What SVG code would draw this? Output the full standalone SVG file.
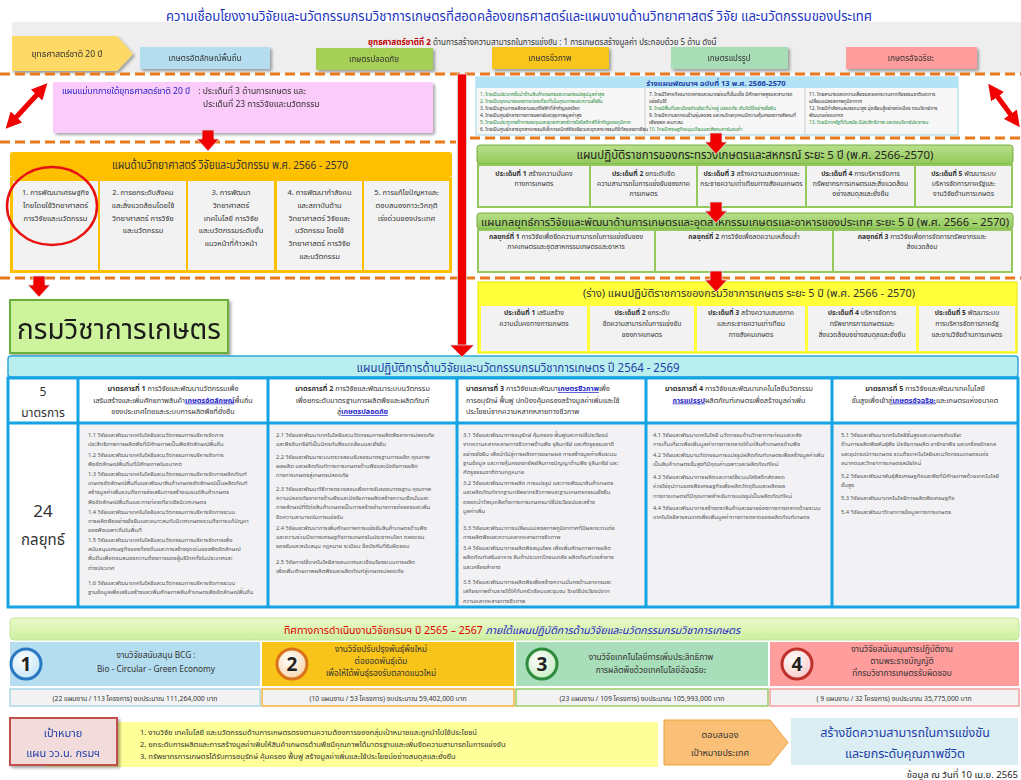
<svg xmlns="http://www.w3.org/2000/svg" width="1021" height="780" viewBox="0 0 1021 780">
<defs>
<style>
.th{font-family:"Noto Sans Thai","Tahoma","Loma","Garuda","Noto Sans","DejaVu Sans",sans-serif;}
.dash{stroke:#E8791E;stroke-width:3;stroke-dasharray:10 5;fill:none;}
.cell{fill:#F2F2F2;}
.c{text-anchor:middle;}
.dk{fill:#333;}
.b{font-weight:bold;}
.arrow{fill:#F00000;stroke:#D9D9D9;stroke-width:0.8;}
.s{font-size:5.8px;fill:#555;}
.m{font-size:7.2px;fill:#333;}
.p{font-size:6.8px;fill:#333;}
.tiny{font-size:4.8px;}
.g13{fill:#1E8B3A;}
</style>
<filter id="sh" x="-10%" y="-10%" width="130%" height="140%">
<feDropShadow dx="2" dy="2" stdDeviation="1.5" flood-color="#000" flood-opacity="0.35"/>
</filter>
<path id="dn" d="M-6,0 H6 V9 H11 L0,21 L-11,9 H-6 Z"/>
<marker id="ah" viewBox="0 0 10 10" refX="6" refY="5" markerWidth="3.2" markerHeight="3.2" orient="auto-start-reverse">
<path d="M0,0 L10,5 L0,10 Z" fill="#F00000"/>
</marker>
<linearGradient id="gHead" x1="0" y1="0" x2="0" y2="1"><stop offset="0" stop-color="#B8E08A"/><stop offset="1" stop-color="#92C85A"/></linearGradient>
<linearGradient id="gBan" x1="0" y1="0" x2="0" y2="1"><stop offset="0" stop-color="#EAF9C8"/><stop offset="1" stop-color="#CDEFA0"/></linearGradient>
<radialGradient id="gC1" cx="0.4" cy="0.35" r="0.7"><stop offset="0" stop-color="#FFFFFF"/><stop offset="1" stop-color="#BFE3F5"/></radialGradient>
<radialGradient id="gC2" cx="0.4" cy="0.35" r="0.7"><stop offset="0" stop-color="#FFFFFF"/><stop offset="1" stop-color="#F9D3A8"/></radialGradient>
<radialGradient id="gC3" cx="0.4" cy="0.35" r="0.7"><stop offset="0" stop-color="#FFFFFF"/><stop offset="1" stop-color="#C6EBC0"/></radialGradient>
<radialGradient id="gC4" cx="0.4" cy="0.35" r="0.7"><stop offset="0" stop-color="#FFFFFF"/><stop offset="1" stop-color="#F8C8C8"/></radialGradient>
</defs>
<rect width="1021" height="780" fill="#FFFFFF"/>

<!-- title -->
<g id="title">
<text class="th c" x="519" y="21" font-size="13.5" fill="#2233C0" textLength="706" lengthAdjust="spacingAndGlyphs">ความเชื่อมโยงงานวิจัยและนวัตกรรมกรมวิชาการเกษตรที่สอดคล้องยุทธศาสตร์และแผนงานด้านวิทยาศาสตร์ วิจัย และนวัตกรรมของประเทศ</text>
</g>

<!-- top band -->
<g id="top-band">
<rect x="12" y="22" width="1009" height="51" fill="#EEEEEE"/>
<text class="th" x="368" y="45" font-size="8" fill="#333"><tspan fill="#C00000" font-weight="bold">ยุทธศาสตร์ชาติที่ 2</tspan> ด้านการสร้างความสามารถในการแข่งขัน : 1 การเกษตรสร้างมูลค่า ประกอบด้วย 5 ด้าน ดังนี้</text>
</g>
<g id="n-strategy20" filter="url(#sh)">
<polygon points="12,36 117,36 133,54 117,71 12,71" fill="#FFD966"/>
<text class="th c" x="67" y="57" font-size="8.5" fill="#333">ยุทธศาสตร์ชาติ 20 ปี</text>
</g>
<g id="n-identity" filter="url(#sh)"><rect x="140" y="47" width="130" height="22" fill="#B4DEEF"/><text class="th c" x="205" y="61" font-size="8" fill="#333">เกษตรอัตลักษณ์พื้นถิ่น</text></g>
<g id="n-safe" filter="url(#sh)"><rect x="316" y="48" width="117" height="22" fill="#A5CF55"/><text class="th c" x="374" y="62" font-size="8" fill="#333">เกษตรปลอดภัย</text></g>
<g id="n-bio" filter="url(#sh)"><rect x="492" y="47" width="117" height="22" fill="#F7C51C"/><text class="th c" x="550" y="61" font-size="8" fill="#333">เกษตรชีวภาพ</text></g>
<g id="n-process" filter="url(#sh)"><rect x="671" y="47" width="117" height="22" fill="#A8DDB5"/><text class="th c" x="729" y="61" font-size="8" fill="#333">เกษตรแปรรูป</text></g>
<g id="n-smart" filter="url(#sh)"><rect x="846" y="47" width="131" height="22" fill="#FF9C9C"/><text class="th c" x="911" y="61" font-size="8" fill="#333">เกษตรอัจฉริยะ</text></g>

<!-- dashed separators -->
<g id="separators">
<line class="dash" x1="0" y1="74" x2="1021" y2="74"/>
<line class="dash" x1="0" y1="142" x2="456" y2="142"/>
<line class="dash" x1="470" y1="138" x2="1021" y2="138"/>
<line class="dash" x1="0" y1="278" x2="1021" y2="278"/>
</g>

<!-- master plan -->
<g id="n-masterplan" filter="url(#sh)">
<rect x="53" y="82" width="380" height="51" rx="2" fill="#FBCBFA"/>
<text class="th" x="62" y="94" font-size="8.5"><tspan fill="#2323C8">แผนแม่บทภายใต้ยุทธศาสตร์ชาติ 20 ปี</tspan><tspan x="196" fill="#333"> : ประเด็นที่ 3 ด้านการเกษตร และ</tspan></text>
<text class="th" x="203" y="107" font-size="8.5" fill="#333">ประเด็นที่ 23 การวิจัยและนวัตกรรม</text>
</g>

<!-- national plan 13 -->
<g id="n-nesdp13">
<rect x="476" y="77" width="482" height="58" fill="#F7F7F7" stroke="#9FD3E6" stroke-width="1"/>
<rect x="476" y="77" width="482" height="11" fill="#B3E4F6"/>
<text class="th c b" x="716" y="85.6" font-size="7.6" fill="#1F3FA8">ร่างแผนพัฒนาฯ ฉบับที่ 13 พ.ศ. 2566-2570</text>
<line x1="645" y1="88" x2="645" y2="135" stroke="#CFCFCF"/>
<line x1="805" y1="88" x2="805" y2="135" stroke="#CFCFCF"/>
<g class="th tiny">
<text x="480" y="96" class="g13">1. ไทยเป็นประเทศชั้นนำด้านสินค้าเกษตรและเกษตรแปรรูปมูลค่าสูง</text>
<text x="480" y="103" class="g13">2. ไทยเป็นจุดหมายของการท่องเที่ยวที่เน้นคุณภาพและความยั่งยืน</text>
<text x="480" y="110" class="dk">3. ไทยเป็นฐานการผลิตยานยนต์ไฟฟ้าที่สำคัญของโลก</text>
<text x="480" y="117" class="dk">4. ไทยเป็นศูนย์กลางทางการแพทย์และสุขภาพมูลค่าสูง</text>
<text x="480" y="124" class="g13">5. ไทยเป็นประตูการค้าการลงทุนและยุทธศาสตร์ทางโลจิสติกส์ที่สำคัญของภูมิภาค</text>
<text x="480" y="131" class="dk">6. ไทยเป็นศูนย์กลางอุตสาหกรรมอิเล็กทรอนิกส์อัจฉริยะและอุตสาหกรรมดิจิทัลของอาเซียน</text>
<text x="649" y="96" class="dk">7. ไทยมีวิสาหกิจขนาดกลางและขนาดย่อมที่เข้มแข็ง มีศักยภาพสูงและสามารถ</text>
<text x="649" y="103" class="dk">แข่งขันได้</text>
<text x="649" y="110" class="g13">8. ไทยมีพื้นที่และเมืองอัจฉริยะที่น่าอยู่ ปลอดภัย เติบโตได้อย่างยั่งยืน</text>
<text x="649" y="117" class="dk">9. ไทยมีความยากจนข้ามรุ่นลดลง และคนไทยทุกคนมีความคุ้มครองทางสังคมที่</text>
<text x="649" y="124" class="dk">เพียงพอ เหมาะสม</text>
<text x="649" y="131" class="g13">10. ไทยมีเศรษฐกิจหมุนเวียนและสังคมคาร์บอนต่ำ</text>
<text x="809" y="96" class="dk">11. ไทยสามารถลดความเสี่ยงและผลกระทบจากภัยธรรมชาติและการ</text>
<text x="809" y="103" class="dk">เปลี่ยนแปลงสภาพภูมิอากาศ</text>
<text x="809" y="110" class="dk">12. ไทยมีกำลังคนสมรรถนะสูง มุ่งเรียนรู้อย่างต่อเนื่อง ตอบโจทย์การ</text>
<text x="809" y="117" class="dk">พัฒนาแห่งอนาคต</text>
<text x="809" y="124" class="g13">13. ไทยมีภาครัฐที่ทันสมัย มีประสิทธิภาพ และตอบโจทย์ประชาชน</text>
</g>
</g>

<!-- science plan -->
<g id="n-sciplan">
<rect x="10" y="152" width="442" height="25" rx="3" fill="#FFC000"/>
<text class="th c" x="230" y="169" font-size="11.5" fill="#333" textLength="236" lengthAdjust="spacingAndGlyphs">แผนด้านวิทยาศาสตร์ วิจัยและนวัตกรรม พ.ศ. 2566 - 2570</text>
<rect x="10" y="177" width="442" height="96" fill="#FFC000"/>
<rect class="cell" x="13" y="181" width="85" height="89"/>
<rect class="cell" x="100" y="181" width="86" height="89"/>
<rect class="cell" x="188" y="181" width="86" height="89"/>
<rect class="cell" x="277" y="181" width="85" height="89"/>
<rect class="cell" x="364" y="181" width="85" height="89"/>
<g class="th c" font-size="7.5" fill="#333">
<text x="55.5" y="195">1. การพัฒนาเศรษฐกิจ<tspan x="55.5" dy="12.8">ไทยโดยใช้วิทยาศาสตร์</tspan><tspan x="55.5" dy="12.8">การวิจัยและนวัตกรรม</tspan></text>
<text x="143" y="195">2. การยกระดับสังคม<tspan x="143" dy="12.8">และสิ่งแวดล้อมโดยใช้</tspan><tspan x="143" dy="12.8">วิทยาศาสตร์ การวิจัย</tspan><tspan x="143" dy="12.8">และนวัตกรรม</tspan></text>
<text x="231" y="195">3. การพัฒนา<tspan x="231" dy="12.8">วิทยาศาสตร์</tspan><tspan x="231" dy="12.8">เทคโนโลยี การวิจัย</tspan><tspan x="231" dy="12.8">และนวัตกรรมระดับขั้น</tspan><tspan x="231" dy="12.8">แนวหน้าที่ก้าวหน้า</tspan></text>
<text x="319.5" y="195">4. การพัฒนากำลังคน<tspan x="319.5" dy="12.8">และสถาบันด้าน</tspan><tspan x="319.5" dy="12.8">วิทยาศาสตร์ วิจัยและ</tspan><tspan x="319.5" dy="12.8">นวัตกรรม โดยใช้</tspan><tspan x="319.5" dy="12.8">วิทยาศาสตร์ การวิจัย</tspan><tspan x="319.5" dy="12.8">และนวัตกรรม</tspan></text>
<text x="406.5" y="195">5. การแก้ไขปัญหาและ<tspan x="406.5" dy="12.8">ตอบสนองภาวะวิกฤติ</tspan><tspan x="406.5" dy="12.8">เร่งด่วนของประเทศ</tspan></text>
</g>
<ellipse cx="52" cy="206" rx="45" ry="39" fill="none" stroke="#E81010" stroke-width="2.5"/>
</g>

<!-- DOA -->
<g id="n-doa" filter="url(#sh)">
<rect x="10" y="300" width="218" height="53" fill="#CDF39C" stroke="#6BAE3C" stroke-width="2"/>
<text class="th c" x="119" y="339" font-size="29" fill="#1A1A1A" textLength="204" lengthAdjust="spacingAndGlyphs">กรมวิชาการเกษตร</text>
</g>

<!-- MOAC plan -->
<g id="n-moac">
<rect x="477" y="145" width="536" height="19" rx="3" fill="url(#gHead)" stroke="#78AE45" stroke-width="1"/>
<text class="th c" x="755" y="159" font-size="11.5" fill="#222" textLength="357" lengthAdjust="spacingAndGlyphs">แผนปฏิบัติราชการของกระทรวงเกษตรและสหกรณ์ ระยะ 5 ปี (พ.ศ. 2566-2570)</text>
<rect x="477" y="164" width="536" height="44" fill="#93C95E"/>
<rect class="cell" x="479" y="166" width="110" height="40"/>
<rect class="cell" x="591" y="166" width="105" height="40"/>
<rect class="cell" x="698" y="166" width="107" height="40"/>
<rect class="cell" x="807" y="166" width="107" height="40"/>
<rect class="cell" x="916" y="166" width="95" height="40"/>
<g class="th c p">
<text x="534" y="176"><tspan class="b">ประเด็นที่ 1</tspan> สร้างความมั่นคง<tspan x="534" dy="10">ทางการเกษตร</tspan></text>
<text x="643.5" y="176"><tspan class="b">ประเด็นที่ 2</tspan> ยกระดับขีด<tspan x="643.5" dy="10">ความสามารถในการแข่งขันของภาค</tspan><tspan x="643.5" dy="10">การเกษตร</tspan></text>
<text x="751.5" y="176"><tspan class="b">ประเด็นที่ 3</tspan> สร้างความเสมอภาคและ<tspan x="751.5" dy="10">กระจายความเท่าเทียมทางสังคมเกษตร</tspan></text>
<text x="860.5" y="176"><tspan class="b">ประเด็นที่ 4</tspan> การบริหารจัดการ<tspan x="860.5" dy="10">ทรัพยากรการเกษตรและสิ่งแวดล้อม</tspan><tspan x="860.5" dy="10">อย่างสมดุลและยั่งยืน</tspan></text>
<text x="963.5" y="176"><tspan class="b">ประเด็นที่ 5</tspan> พัฒนาระบบ<tspan x="963.5" dy="10">บริหารจัดการภาครัฐและ</tspan><tspan x="963.5" dy="10">งานวิจัยด้านการเกษตร</tspan></text>
</g>
</g>

<!-- national research strategy -->
<g id="n-strat">
<rect x="477" y="213" width="536" height="16" rx="3" fill="url(#gHead)" stroke="#78AE45" stroke-width="1"/>
<text class="th c" x="745" y="225.5" font-size="11" fill="#222" textLength="528" lengthAdjust="spacingAndGlyphs">แผนกลยุทธ์การวิจัยและพัฒนาด้านการเกษตรและอุตสาหกรรมเกษตรและอาหารของประเทศ ระยะ 5 ปี (พ.ศ. 2566 – 2570)</text>
<rect x="477" y="229" width="536" height="44" fill="#93C95E"/>
<rect class="cell" x="479" y="231" width="175" height="40"/>
<rect class="cell" x="656" y="231" width="176" height="40"/>
<rect class="cell" x="834" y="231" width="177" height="40"/>
<g class="th c p">
<text x="566" y="239"><tspan class="b">กลยุทธ์ที่ 1</tspan> การวิจัยเพื่อขีดความสามารถในการแข่งขันของ<tspan x="566" dy="10">ภาคเกษตรและอุตสาหกรรมเกษตรและอาหาร</tspan></text>
<text x="744" y="239"><tspan class="b">กลยุทธ์ที่ 2</tspan> การวิจัยเพื่อลดความเหลื่อมล้ำ</text>
<text x="922" y="239"><tspan class="b">กลยุทธ์ที่ 3</tspan> การวิจัยเพื่อการจัดการทรัพยากรและ<tspan x="922" dy="10">สิ่งแวดล้อม</tspan></text>
</g>
</g>

<!-- DOA action plan draft -->
<g id="n-doaplan">
<rect x="478" y="282" width="539" height="71" fill="#FFFF3A" stroke="#E6E600" stroke-width="1"/>
<text class="th c" x="749" y="297" font-size="10.5" fill="#333" textLength="332" lengthAdjust="spacingAndGlyphs">(ร่าง) แผนปฏิบัติราชการของกรมวิชาการเกษตร ระยะ 5 ปี (พ.ศ. 2566 - 2570)</text>
<rect class="cell" x="481" y="306" width="106" height="45"/>
<rect class="cell" x="590" y="306" width="104" height="45"/>
<rect class="cell" x="697" y="306" width="108" height="45"/>
<rect class="cell" x="808" y="306" width="108" height="45"/>
<rect class="cell" x="919" y="306" width="96" height="45"/>
<g class="th c p">
<text x="534" y="315"><tspan class="b">ประเด็นที่ 1</tspan> เสริมสร้าง<tspan x="534" dy="11">ความมั่นคงทางการเกษตร</tspan></text>
<text x="642" y="315"><tspan class="b">ประเด็นที่ 2</tspan> ยกระดับ<tspan x="642" dy="11">ขีดความสามารถในการแข่งขัน</tspan><tspan x="642" dy="11">ของภาคเกษตร</tspan></text>
<text x="751" y="315"><tspan class="b">ประเด็นที่ 3</tspan> สร้างความเสมอภาค<tspan x="751" dy="11">และกระจายความเท่าเทียม</tspan><tspan x="751" dy="11">ทางสังคมเกษตร</tspan></text>
<text x="862" y="315"><tspan class="b">ประเด็นที่ 4</tspan> บริหารจัดการ<tspan x="862" dy="11">ทรัพยากรการเกษตรและ</tspan><tspan x="862" dy="11">สิ่งแวดล้อมอย่างสมดุลและยั่งยืน</tspan></text>
<text x="967" y="315"><tspan class="b">ประเด็นที่ 5</tspan> พัฒนาระบบ<tspan x="967" dy="11">การบริหารจัดการภาครัฐ</tspan><tspan x="967" dy="11">และงานวิจัยด้านการเกษตร</tspan></text>
</g>
</g>

<!-- research action plan table -->
<g id="n-rdplan">
<rect x="8" y="356" width="1010" height="21" rx="3" fill="#B8EFEE" stroke="#2FA8D8" stroke-width="1.5"/>
<text class="th c" x="518" y="372" font-size="13" fill="#1F3FA8" textLength="323" lengthAdjust="spacingAndGlyphs">แผนปฏิบัติการด้านวิจัยและนวัตกรรมกรมวิชาการเกษตร ปี 2564 - 2569</text>
<rect x="8" y="378" width="1010" height="229" fill="#F2F2F4"/>
<rect x="8" y="378" width="1010" height="45" fill="#FFFFFF"/>
<rect x="8" y="423" width="70" height="184" fill="#FFFFFF"/>
<g stroke="#14A3E3" stroke-width="3" fill="none">
<rect x="8" y="378" width="1010" height="229"/>
<line x1="8" y1="423" x2="1018" y2="423"/>
<line x1="78" y1="378" x2="78" y2="607"/>
<line x1="268" y1="378" x2="268" y2="607"/>
<line x1="457" y1="378" x2="457" y2="607"/>
<line x1="646" y1="378" x2="646" y2="607"/>
<line x1="832" y1="378" x2="832" y2="607"/>
</g>
<text class="th c" x="43" y="396" font-size="12" fill="#333">5</text>
<text class="th c" x="43" y="417" font-size="12" fill="#333">มาตรการ</text>
<text class="th c" x="43" y="517" font-size="17" fill="#333">24</text>
<text class="th c" x="43" y="545" font-size="15" fill="#333">กลยุทธ์</text>
<g class="th m">
<text class="c" x="173" y="391"><tspan class="b">มาตรการที่ 1</tspan>  การวิจัยและพัฒนานวัตกรรมเพื่อ<tspan x="173" dy="11.5">เสริมสร้างและเพิ่มศักยภาพสินค้า</tspan><tspan fill="#2323C8" font-weight="bold" text-decoration="underline">เกษตรอัตลักษณ์</tspan><tspan>พื้นถิ่น</tspan><tspan x="173" dy="11.5">ของประเทศไทยและระบบการผลิตพืชที่ยั่งยืน</tspan></text>
<text class="c" x="362.5" y="391"><tspan class="b">มาตรการที่ 2</tspan> การวิจัยและพัฒนาระบบนวัตกรรม<tspan x="362.5" dy="11.5">เพื่อยกระดับมาตรฐานการผลิตพืชและผลิตภัณฑ์</tspan><tspan x="362.5" dy="11.5">สู่</tspan><tspan fill="#2323C8" font-weight="bold" text-decoration="underline">เกษตรปลอดภัย</tspan></text>
<text x="466" y="391"><tspan class="b">มาตรการที่ 3</tspan> การวิจัยและพัฒนา<tspan fill="#2323C8" font-weight="bold" text-decoration="underline">เกษตรชีวภาพ</tspan><tspan>เพื่อ</tspan><tspan x="466" dy="11.5">การอนุรักษ์ ฟื้นฟู ปกป้องคุ้มครองสร้างมูลค่าเพิ่มและใช้</tspan><tspan x="466" dy="11.5">ประโยชน์จากความหลากหลายทางชีวภาพ</tspan></text>
<text class="c" x="739" y="391"><tspan class="b">มาตรการที่ 4</tspan> การวิจัยและพัฒนาเทคโนโลยีนวัตกรรม<tspan x="739" dy="11.5" fill="#2323C8" font-weight="bold" text-decoration="underline">การแปรรูป</tspan><tspan>ผลิตภัณฑ์เกษตรเพื่อสร้างมูลค่าเพิ่ม</tspan></text>
<text class="c" x="925" y="391"><tspan class="b">มาตรการที่ 5</tspan> การวิจัยและพัฒนาเทคโนโลยี<tspan x="925" dy="11.5">ขั้นสูงเพื่อเข้าสู่</tspan><tspan fill="#2323C8" font-weight="bold" text-decoration="underline">เกษตรอัจฉริยะ</tspan><tspan>และเกษตรแห่งอนาคต</tspan></text>
</g>
<g class="th s">
<text x="88" y="437">1.1 วิจัยและพัฒนาเทคโนโลยีและนวัตกรรมการบริหารจัดการ<tspan x="88" dy="9.2">ประสิทธิภาพการผลิตพืชที่มีศักยภาพเป็นพืชอัตลักษณ์พื้นถิ่น</tspan></text>
<text x="88" y="457">1.2 วิจัยและพัฒนาเทคโนโลยีและนวัตกรรมการบริหารจัดการ<tspan x="88" dy="9.2">พืชอัตลักษณ์พื้นถิ่นที่มีศักยภาพในอนาคต</tspan></text>
<text x="88" y="476">1.3 วิจัยและพัฒนาเทคโนโลยีและนวัตกรรมการบริหารจัดการผลิตภัณฑ์<tspan x="88" dy="9.2">เกษตรอัตลักษณ์พื้นถิ่นและพัฒนาสินค้าเกษตรอัตลักษณ์เป็นผลิตภัณฑ์</tspan><tspan x="88" dy="9.2">สร้างมูลค่าเพิ่มรวมถึงการส่งเสริมการสร้างแบรนด์สินค้าเกษตร</tspan><tspan x="88" dy="9.2">พืชอัตลักษณ์พื้นถิ่นและการท่องเที่ยวเชิงนิเวศเกษตร</tspan></text>
<text x="88" y="514">1.4 วิจัยและพัฒนาเทคโนโลยีและนวัตกรรมการบริหารจัดการระบบ<tspan x="88" dy="9.2">การผลิตพืชอย่างยั่งยืนและเหมาะสมกับนิเวศเกษตรรวมถึงการแก้ปัญหา</tspan><tspan x="88" dy="9.2">ของพืชเฉพาะถิ่นในพื้นที่</tspan></text>
<text x="88" y="542">1.5 วิจัยและพัฒนาเทคโนโลยีและนวัตกรรมการบริหารจัดการเพื่อ<tspan x="88" dy="9.2">สนับสนุนเศรษฐกิจของท้องถิ่นและการสร้างจุดเด่นของพืชอัตลักษณ์</tspan><tspan x="88" dy="9.2">พื้นถิ่นเพื่อตอบสนองความต้องการของผู้บริโภคทั้งในประเทศและ</tspan><tspan x="88" dy="9.2">ต่างประเทศ</tspan></text>
<text x="88" y="585">1.6 วิจัยและพัฒนาเทคโนโลยีและนวัตกรรมการบริหารจัดการระบบ<tspan x="88" dy="9.2">ฐานข้อมูลเพื่อเสริมสร้างและเพิ่มศักยภาพสินค้าเกษตรพืชอัตลักษณ์พื้นถิ่น</tspan></text>

<text x="276" y="437">2.1 วิจัยและพัฒนาเทคโนโลยีและนวัตกรรมการผลิตพืชอาหารปลอดภัย<tspan x="276" dy="9.2">และพืชอินทรีย์ที่เป็นมิตรกับสิ่งแวดล้อมและยั่งยืน</tspan></text>
<text x="276" y="459">2.2 วิจัยและพัฒนาระบบตรวจสอบรับรองมาตรฐานการผลิต คุณภาพ<tspan x="276" dy="9.2">ผลผลิต และผลิตภัณฑ์ทางการเกษตรด้านพืชและปัจจัยการผลิต</tspan><tspan x="276" dy="9.2">ทางการเกษตรสู่เกษตรปลอดภัย</tspan></text>
<text x="276" y="491">2.3 วิจัยและพัฒนาวิธีการตรวจสอบเพื่อการรับรองมาตรฐาน คุณภาพ<tspan x="276" dy="9.2">ความปลอดภัยอาหารด้านพืชและปัจจัยการผลิตสร้างความเชื่อมั่นและ</tspan><tspan x="276" dy="9.2">ภาพลักษณ์ที่ดีต่อสินค้าเกษตรเป็นการสร้างอำนาจการต่อรองและเพิ่ม</tspan><tspan x="276" dy="9.2">ขีดความสามารถในการแข่งขัน</tspan></text>
<text x="276" y="530">2.4 วิจัยและพัฒนาการเพิ่มศักยภาพการแข่งขันสินค้าเกษตรด้านพืช<tspan x="276" dy="9.2">และความร่วมมือทางเศรษฐกิจการเกษตรในประชาคมโลก ตลอดจน</tspan><tspan x="276" dy="9.2">รองรับและสนับสนุน กฎหมาย ระเบียบ ข้อบังคับที่รับผิดชอบ</tspan></text>
<text x="276" y="564">2.5 วิจัยการใช้เทคโนโลยีสารสนเทศและเชื่อมโยงระบบการผลิต<tspan x="276" dy="9.2">เพื่อเพิ่มศักยภาพผลิตพืชและผลิตภัณฑ์สู่เกษตรปลอดภัย</tspan></text>

<text x="463" y="437">3.1 วิจัยและพัฒนาการอนุรักษ์ คุ้มครอง ฟื้นฟูและการใช้ประโยชน์<tspan x="463" dy="9.3">จากความหลากหลายทางชีวภาพด้านพืช จุลินทรีย์ และศัตรูธรรมชาติ</tspan><tspan x="463" dy="9.3">อย่างยั่งยืน เพื่อนำไปสู่การผลิตการขยายผล การสร้างมูลค่าเพิ่มระบบ</tspan><tspan x="463" dy="9.3">ฐานข้อมูล และการคุ้มครองทรัพย์สินทางปัญญาด้านพืช จุลินทรีย์ และ</tspan><tspan x="463" dy="9.3">ศัตรูธรรมชาติตามกฎหมาย</tspan></text>
<text x="463" y="485">3.2 วิจัยและพัฒนาการผลิต การแปรรูป และการพัฒนาสินค้าเกษตร<tspan x="463" dy="9.3">และผลิตภัณฑ์จากฐานทรัพยากรชีวภาพและฐานเกษตรกรรมยั่งยืน</tspan><tspan x="463" dy="9.3">ตลอดนำวัสดุเหลือทิ้งทางการเกษตรมาใช้ประโยชน์และสร้าง</tspan><tspan x="463" dy="9.3">มูลค่าเพิ่ม</tspan></text>
<text x="463" y="530">3.3 วิจัยและพัฒนาการเปลี่ยนแปลงสภาพภูมิอากาศที่มีผลกระทบต่อ<tspan x="463" dy="9.3">การผลิตพืชและความหลากหลายทางชีวภาพ</tspan></text>
<text x="463" y="550">3.4 วิจัยและพัฒนาการผลิตพืชสมุนไพร เพื่อเพิ่มศักยภาพการผลิต<tspan x="463" dy="9.3">ผลิตภัณฑ์เสริมอาหาร สินค้าประเภทโภชนเภสัช ผลิตภัณฑ์เวชสำอาง</tspan><tspan x="463" dy="9.3">และเครื่องสำอาง</tspan></text>
<text x="463" y="584">3.5 วิจัยและพัฒนาการผลิตพืชเพื่อสร้างความมั่นคงด้านอาหารและ<tspan x="463" dy="9.3">เสถียรภาพด้านรายได้ให้กับครัวเรือนและชุมชน โดยใช้ประโยชน์จาก</tspan><tspan x="463" dy="9.3">ความหลากหลายทางชีวภาพ</tspan></text>

<text x="653" y="437">4.1 วิจัยและพัฒนาเทคโนโลยี นวัตกรรมด้านวิทยาการก่อนและหลัง<tspan x="653" dy="9.2">การเก็บเกี่ยวเพื่อเพิ่มมูลค่าทางการตลาดให้แก่สินค้าเกษตรด้านพืช</tspan></text>
<text x="653" y="457">4.2 วิจัยและพัฒนานวัตกรรมการแปรรูปผลิตภัณฑ์เกษตรเพื่อสร้างมูลค่าเพิ่ม<tspan x="653" dy="9.2">เป็นสินค้าเกษตรขั้นสูงที่มีคุณค่าเฉพาะและผลิตภัณฑ์ใหม่</tspan></text>
<text x="653" y="479">4.3 วิจัยและพัฒนาการผลิตและการใช้ระบบโลจิสติกส์ตลอด<tspan x="653" dy="9.4">ห่วงโซ่อุปทานของพืชเศรษฐกิจเพื่อผลิตวัตถุดิบและผลิตผล</tspan><tspan x="653" dy="9.4">ทางการเกษตรที่มีคุณภาพสำหรับการแปรรูปเป็นผลิตภัณฑ์ใหม่</tspan></text>
<text x="653" y="510">4.4 วิจัยและพัฒนาการสร้างตราสินค้าและขยายช่องทางการตลาดด้วยระบบ<tspan x="653" dy="9.2">เทคโนโลยีสารสนเทศเพื่อเพิ่มมูลค่าทางการตลาดของผลิตภัณฑ์เกษตร</tspan></text>

<text x="841" y="437">5.1 วิจัยและพัฒนาเทคโนโลยีขั้นสูงและเกษตรอัจฉริยะ<tspan x="841" dy="9.3">ด้านการผลิตพืชพันธุ์พืช ปัจจัยการผลิต อารักขาพืช และเครื่องจักรกล</tspan><tspan x="841" dy="9.3">และอุปกรณ์การเกษตร รวมถึงเทคโนโลยีและนวัตกรรมเกษตรแห่ง</tspan><tspan x="841" dy="9.3">อนาคตและวิทยาการเกษตรสมัยใหม่</tspan></text>
<text x="841" y="478">5.2 วิจัยและพัฒนาพันธุ์พืชเศรษฐกิจและพืชที่มีศักยภาพด้วยเทคโนโลยี<tspan x="841" dy="9.2">ขั้นสูง</tspan></text>
<text x="841" y="500">5.3 วิจัยและพัฒนาเทคโนโลยีการผลิตพืชเศรษฐกิจ</text>
<text x="841" y="514">5.4 วิจัยและพัฒนาวิทยาการข้อมูลทางการเกษตร</text>
</g>
</g>

<!-- research direction banner -->
<g id="n-direction">
<rect x="10" y="618" width="1009" height="22" rx="4" fill="url(#gBan)" stroke="#C4E59A" stroke-width="1"/>
<text class="th c" x="512" y="633.5" font-size="10.5"><tspan fill="#E00000">ทิศทางการดำเนินงานวิจัยกรมฯ ปี 2565 – 2567</tspan><tspan fill="#2323C8" font-style="italic"> ภายใต้แผนปฏิบัติการด้านวิจัยและนวัตกรรมกรมวิชาการเกษตร</tspan></text>
</g>

<g id="n-bcg">
<rect x="10" y="642" width="250" height="44" fill="#B4DDEF"/>
<circle cx="26" cy="664" r="15" fill="url(#gC1)" stroke="#2B78C2" stroke-width="3"/>
<text class="th c b" x="26" y="671" font-size="19" fill="#222">1</text>
<text class="th c" x="156" y="658" font-size="8.3" fill="#333">งานวิจัยสนับสนุน BCG :</text>
<text class="th c" x="156" y="672" font-size="8.3" fill="#333">Bio - Circular - Green Economy</text>
<rect x="10" y="689" width="250" height="17" fill="#F2F2F2" stroke="#A8D8E8" stroke-width="1.5"/>
<text class="th c p" x="135" y="700.5">(22 แผนงาน / 113 โครงการ) งบประมาณ 111,264,000 บาท</text>
</g>
<g id="n-breed">
<rect x="262" y="642" width="252" height="44" fill="#F8C41A"/>
<circle cx="292" cy="664" r="15" fill="url(#gC2)" stroke="#D8731A" stroke-width="3"/>
<text class="th c b" x="292" y="671" font-size="19" fill="#222">2</text>
<text class="th c" x="381" y="652" font-size="8.3" fill="#333">งานวิจัยปรับปรุงพันธุ์พืชใหม่</text>
<text class="th c" x="381" y="664" font-size="8.3" fill="#333">ต่อยอดพันธุ์เดิม</text>
<text class="th c" x="381" y="676" font-size="8.3" fill="#333">เพื่อให้ได้พันธุ์รองรับตลาดแนวใหม่</text>
<rect x="262" y="689" width="252" height="17" fill="#F2F2F2" stroke="#F3B33A" stroke-width="1.5"/>
<text class="th c p" x="388" y="700.5">(10 แผนงาน / 53 โครงการ) งบประมาณ 59,402,000 บาท</text>
</g>
<g id="n-tech">
<rect x="516" y="642" width="252" height="44" fill="#A9DEBA"/>
<circle cx="542" cy="664" r="15" fill="url(#gC3)" stroke="#2E8B3E" stroke-width="3"/>
<text class="th c b" x="542" y="671" font-size="19" fill="#222">3</text>
<text class="th c" x="651" y="660" font-size="8.3" fill="#333">งานวิจัยเทคโนโลยีการเพิ่มประสิทธิภาพ</text>
<text class="th c" x="651" y="673" font-size="8.3" fill="#333">การผลิตพืชด้วยเทคโนโลยีอัจฉริยะ</text>
<rect x="516" y="689" width="252" height="17" fill="#F2F2F2" stroke="#9CCB6A" stroke-width="1.5"/>
<text class="th c p" x="642" y="700.5">(23 แผนงาน / 109 โครงการ) งบประมาณ 105,993,000 บาท</text>
</g>
<g id="n-law">
<rect x="770" y="642" width="249" height="44" fill="#FF9C9C"/>
<circle cx="797" cy="664" r="15" fill="url(#gC4)" stroke="#C0302A" stroke-width="3"/>
<text class="th c b" x="797" y="671" font-size="19" fill="#222">4</text>
<text class="th c" x="902" y="652" font-size="8.3" fill="#333">งานวิจัยสนับสนุนการปฏิบัติงาน</text>
<text class="th c" x="902" y="664" font-size="8.3" fill="#333">ตามพระราชบัญญัติ</text>
<text class="th c" x="902" y="676" font-size="8.3" fill="#333">ที่กรมวิชาการเกษตรรับผิดชอบ</text>
<rect x="770" y="689" width="249" height="17" fill="#F2F2F2" stroke="#F4A0A0" stroke-width="1.5"/>
<text class="th c p" x="894" y="700.5">( 9 แผนงาน / 32 โครงการ) งบประมาณ 35,775,000 บาท</text>
</g>

<!-- bottom goals -->
<g id="n-goals">
<rect x="46" y="722" width="612" height="45" fill="#FFFF99"/>
<g class="th" font-size="7.6" fill="#333">
<text x="140" y="735">1. งานวิจัย เทคโนโลยี และนวัตกรรมด้านการเกษตรตรงตามความต้องการของกลุ่มเป้าหมายและถูกนำไปใช้ประโยชน์</text>
<text x="140" y="747">2. ยกระดับการผลิตและการสร้างมูลค่าเพิ่มให้สินค้าเกษตรด้านพืชมีคุณภาพได้มาตรฐานและเพิ่มขีดความสามารถในการแข่งขัน</text>
<text x="140" y="758.5">3. ทรัพยากรการเกษตรได้รับการอนุรักษ์ คุ้มครอง ฟื้นฟู สร้างมูลค่าเพิ่มและใช้ประโยชน์อย่างสมดุลและยั่งยืน</text>
</g>
</g>
<g id="n-target" filter="url(#sh)">
<rect x="10" y="718" width="107" height="47" fill="#F2DCDB" stroke="#C0504D" stroke-width="2"/>
<text class="th c" x="63" y="737" font-size="11" fill="#1F3FA8">เป้าหมาย</text>
<text class="th c" x="63" y="757" font-size="11" fill="#1F3FA8">แผน วว.น. กรมฯ</text>
</g>
<g id="n-respond">
<polygon points="664,720 770,720 788,742.5 770,765 664,765" fill="#FAC078" stroke="#F0A040" stroke-width="1"/>
<text class="th c" x="720" y="738" font-size="9" fill="#333">ตอบสนอง</text>
<text class="th c" x="720" y="756" font-size="9" fill="#333">เป้าหมายประเทศ</text>
</g>
<g id="n-outcome">
<rect x="791" y="718" width="227" height="47" fill="#DAEEF3"/>
<text class="th c" x="905" y="737" font-size="12.5" fill="#1F3FA8">สร้างขีดความสามารถในการแข่งขัน</text>
<text class="th c" x="905" y="758" font-size="12.5" fill="#1F3FA8">และยกระดับคุณภาพชีวิต</text>
</g>
<text class="th" x="1018" y="778" font-size="9.5" fill="#222" text-anchor="end">ข้อมูล ณ วันที่ 10 เม.ย. 2565</text>

<!-- connectors -->
<g id="connectors">
<rect class="arrow" x="457.5" y="74" width="9" height="272"/>
<polygon class="arrow" points="450,345 474,345 462,357"/>
<use href="#dn" class="arrow" x="208" y="130"/>
<use href="#dn" class="arrow" x="39" y="276"/>
<use href="#dn" class="arrow" x="716" y="133"/>
<use href="#dn" class="arrow" x="716" y="202"/>
<use href="#dn" class="arrow" x="716" y="271"/>
<line x1="10" y1="124" x2="43" y2="88" stroke="#F00000" stroke-width="5" marker-start="url(#ah)" marker-end="url(#ah)"/>
<line x1="992" y1="89" x2="1016" y2="122" stroke="#F00000" stroke-width="5" marker-start="url(#ah)" marker-end="url(#ah)"/>
</g>
</svg>
